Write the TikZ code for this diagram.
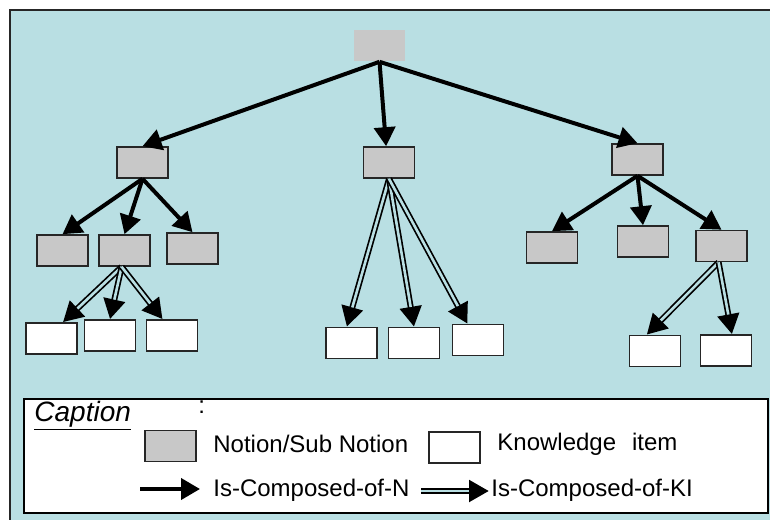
\documentclass[tikz,border=0pt]{standalone}
\usepackage{fontspec}
\setmainfont{Liberation Sans}
\usetikzlibrary{arrows.meta}

\definecolor{panel}{HTML}{B9DFE3}
\definecolor{notionfill}{HTML}{C8C8C8}

\begin{document}
\begin{tikzpicture}[x=0.5pt, y=-0.5pt,
    font=\fontsize{12pt}{14pt}\selectfont,
    notion/.style={draw=black!85, line width=0.8pt, fill=notionfill,
        minimum width=25.5pt, minimum height=15.5pt, inner sep=0pt},
    item/.style={draw=black!85, line width=0.8pt, fill=white,
        minimum width=25.5pt, minimum height=15.5pt, inner sep=0pt},
    isn/.style={line width=2pt, arrows={-Triangle[length=9.5pt, width=10.5pt]}},
    iski/.style={line width=3pt, arrows={-Triangle[length=10pt, width=10.5pt]},
        postaction={draw=panel, line width=1.3pt, arrows=-, shorten >=10pt}},
    txt/.style={anchor=base west, inner sep=0pt}]

    \clip (0, 0) rectangle (770, 519);
    \fill[panel] (10, 10) rectangle (780, 530);
    \draw[line width=1pt, black!85] (10, 530) -- (10, 10) -- (780, 10);

    \node[notion, draw=none] (root) at (379.5, 45.5) {};

    \node[notion] (n1) at (142.5, 162.5) {};
    \node[notion] (n2) at (389, 162.5) {};
    \node[notion] (n3) at (637.5, 159.5) {};

    \node[notion] (n11) at (62.5, 250.5) {};
    \node[notion] (n12) at (124.5, 250.5) {};
    \node[notion] (n13) at (192.5, 248.5) {};

    \node[notion] (n31) at (552, 247.5) {};
    \node[notion] (n32) at (643, 241.5) {};
    \node[notion] (n33) at (721.5, 246) {};

    \node[item] (k121) at (51.5, 338.5) {};
    \node[item] (k122) at (110, 335.5) {};
    \node[item] (k123) at (172, 335.5) {};

    \node[item] (k21) at (351.5, 343) {};
    \node[item] (k22) at (414, 343) {};
    \node[item] (k23) at (478, 340) {};

    \node[item] (k331) at (655, 351) {};
    \node[item] (k332) at (726, 350.5) {};

    \draw[isn] (root.south) -- (n1.north);
    \draw[isn] (root.south) -- (n2.100);
    \draw[isn] (root.south) -- (n3.north);

    \draw[isn] (n1.south) -- (n11.north);
    \draw[isn] (n1.south) -- (n12.north);
    \draw[isn] (n1.south) -- (n13.north);

    \draw[isn] (n3.south) -- (n31.north);
    \draw[isn] (n3.south) -- (n32.north);
    \draw[isn] (n3.south) -- (n33.north);

    \draw[iski] (n12.-100) -- (k121.55);
    \draw[iski] (n12.-100) -- (k122.north);
    \draw[iski] (n12.-100) -- (k123.120);

    \draw[iski] (n2.south) -- (k21.106);
    \draw[iski] (n2.south) -- (k22.north);
    \draw[iski] (n2.south) -- (k23.123);

    \draw[iski] (n33.-100) -- (k331.117);
    \draw[iski] (n33.-100) -- (k332.70);

    \draw[line width=0.8pt, fill=white] (24, 399) rectangle (768, 513);
    \node[txt, font=\fontsize{14pt}{16pt}\selectfont\itshape] (captitle) at (34, 421) {\underline{Caption}};
    \node[txt] (colon) at (198, 413) {:};

    \node[notion] (keyn) at (170.5, 446) {};
    \node[txt] (keyntext) at (213, 452) {Notion/Sub Notion};
    \node[item] (keyk) at (454.5, 447.5) {};
    \node[txt] (keyktext) at (497, 450) {Knowledge\hspace{8pt}item};

    \coordinate (keyn0) at (140, 489);
    \coordinate (keyn1) at (200, 489);
    \draw[isn] (keyn0) -- (keyn1);
    \node[txt] (keyntype) at (213, 496) {Is-Composed-of-N};

    \coordinate (keyk0) at (421, 491);
    \coordinate (keyk1) at (489, 491);
    \draw[iski] (keyk0) -- (keyk1);
    \node[txt] (keyktype) at (491, 496) {Is-Composed-of-KI};
\end{tikzpicture}
\end{document}
